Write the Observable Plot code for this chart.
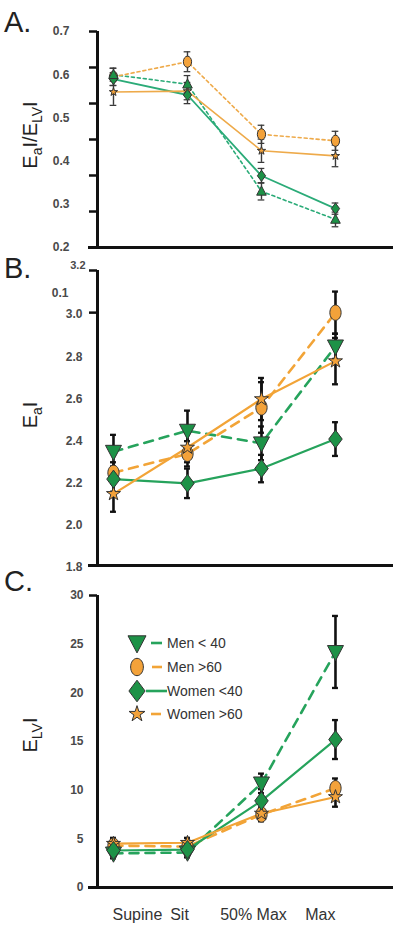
<!DOCTYPE html>
<html><head><meta charset="utf-8">
<script src="https://cdn.jsdelivr.net/npm/d3@7"></script>
<script src="https://cdn.jsdelivr.net/npm/@observablehq/plot@0.6"></script>
<style>
body{margin:0;background:#fff;}
#fig{position:relative;width:400px;height:931px;overflow:hidden;font-family:"Liberation Sans",Arial,sans-serif;background:#fff;}
#fig svg{position:absolute;left:0;}
</style>
</head><body><div id="fig"></div>
<script>
// ---------- data ----------
const stages = ["Supine", "Sit", "50% Max", "Max"];
const groups = ["Men < 40", "Men >60", "Women <40", "Women >60"];

// Panel A: EaI/ELVI
const aMen40 = [0.600, 0.578, 0.330, 0.265];
const aMen40Err = [0.015, 0.020, 0.020, 0.017];
const aMen60 = [0.595, 0.630, 0.462, 0.447];
const aMen60Err = [0.020, 0.023, 0.021, 0.022];
const aWomen40 = [0.590, 0.553, 0.366, 0.290];
const aWomen40Err = [0.015, 0.020, 0.017, 0.013];
const aWomen60 = [0.560, 0.562, 0.424, 0.412];
const aWomen60Err = [0.031, 0.020, 0.027, 0.025];

// Panel B: EaI
const bMen40 = [2.34, 2.44, 2.38, 2.84];
const bMen40Err = [0.08, 0.095, 0.08, 0.06];
const bMen60 = [2.24, 2.33, 2.55, 3.00];
const bMen60Err = [0.05, 0.06, 0.12, 0.10];
const bWomen40 = [2.21, 2.19, 2.26, 2.40];
const bWomen40Err = [0.06, 0.07, 0.065, 0.08];
const bWomen60 = [2.14, 2.36, 2.59, 2.77];
const bWomen60Err = [0.085, 0.07, 0.10, 0.11];

// Panel C: ELVI
const cMen40 = [3.5, 3.6, 10.7, 24.2];
const cMen40Err = [0.5, 0.5, 1.0, 3.7];
const cMen60 = [4.3, 4.2, 7.5, 10.2];
const cMen60Err = [0.5, 0.5, 0.7, 1.0];
const cWomen40 = [3.8, 3.9, 8.9, 15.2];
const cWomen40Err = [0.5, 0.5, 1.2, 2.0];
const cWomen60 = [4.5, 4.6, 7.6, 9.3];
const cWomen60Err = [0.6, 0.5, 0.6, 1.0];

// tick labels
const aTickLabels = [0.7, 0.6, 0.5, 0.4, 0.3, 0.2];
const aTickMarks = [0.7, 0.6167, 0.5333, 0.45, 0.3667, 0.2833, 0.2];
const bTickLabels = [3.0, 2.8, 2.6, 2.4, 2.2, 2.0, 1.8];
const bTopLabelValues = [3.2, 3.1];
const bTopLabelTexts = ["3.2", "0.1"];
const bTickMarks = [3.2, 3.0];
const cTickLabels = [30, 25, 20, 15, 10, 5, 0];
const cTickMarks = [30];

// ---------- styles ----------
const GREEN_FILL = "#1d9247", ORANGE_FILL = "#f3a23a";
const GREEN_LINE = "#26a35c", ORANGE_LINE = "#f2a437";
const GREEN_LINE_A = "#2bab78", ORANGE_LINE_A = "#eeaa4a";
const K = 0.5523;
const rad = s => Math.sqrt(s / Math.PI);
const symEllipse = {draw(c, s){const r = rad(s), rx = 0.75*r, ry = 1.02*r;
  c.moveTo(rx,0); c.bezierCurveTo(rx,K*ry,K*rx,ry,0,ry); c.bezierCurveTo(-K*rx,ry,-rx,K*ry,-rx,0);
  c.bezierCurveTo(-rx,-K*ry,-K*rx,-ry,0,-ry); c.bezierCurveTo(K*rx,-ry,rx,-K*ry,rx,0); c.closePath();}};
const symTriDown = {draw(c, s){const r = rad(s); c.moveTo(-r,-0.8*r); c.lineTo(r,-0.8*r); c.lineTo(0,1.1*r); c.closePath();}};
const symTriUp = {draw(c, s){const r = rad(s); c.moveTo(-r,0.8*r); c.lineTo(r,0.8*r); c.lineTo(0,-1.1*r); c.closePath();}};
const symDiamond = {draw(c, s){const r = rad(s); c.moveTo(0,-1.2*r); c.lineTo(0.9*r,0); c.lineTo(0,1.2*r); c.lineTo(-0.9*r,0); c.closePath();}};
const symStar = d3.symbolStar;

const xDomain = [-0.216, 3.784];
const fig = document.getElementById("fig");

function rows(vals, errs){ return stages.map((s, i) => ({i, s, v: vals[i], e: errs[i]})); }

function panel(cfg){
  const marks = [];
  for (const g of cfg.series) marks.push(Plot.line(rows(g.vals, g.errs), {x: "i", y: "v", stroke: g.line, strokeWidth: g.lw, strokeDasharray: g.dash || null}));
  for (const g of cfg.series){
    const R = rows(g.vals, g.errs);
    marks.push(Plot.ruleX(R, {x: "i", y1: d => d.v - d.e, y2: d => d.v + d.e, stroke: cfg.errColor, strokeWidth: cfg.errWidth}));
    marks.push(Plot.ruleY(R, {x1: d => d.i - cfg.cap, x2: d => d.i + cfg.cap, y: d => d.v + d.e, stroke: cfg.errColor, strokeWidth: cfg.errWidth * 0.9}));
    marks.push(Plot.ruleY(R, {x1: d => d.i - cfg.cap, x2: d => d.i + cfg.cap, y: d => d.v - d.e, stroke: cfg.errColor, strokeWidth: cfg.errWidth * 0.9}));
  }
  for (const g of cfg.drawOrder.map(k => cfg.series[k])) marks.push(Plot.dot(rows(g.vals, g.errs), {x: "i", y: "v", symbol: g.symbol, r: g.r, fill: g.fill, stroke: "#333", strokeWidth: 1}));
  marks.push(Plot.ruleX([xDomain[0]], {y1: cfg.yDomain[0], y2: cfg.yDomain[1], stroke: "#111", strokeWidth: 3}));
  marks.push(Plot.ruleY([cfg.yDomain[0]], {insetLeft: -9, stroke: "#111", strokeWidth: 3}));
  marks.push(Plot.axisY({ticks: cfg.tickMarks, tickSize: 8, tickFormat: () => "", strokeWidth: 2.5, stroke: "#111", label: null}));
  marks.push(Plot.axisY({ticks: cfg.tickLabels, tickSize: 0, tickPadding: cfg.pad, tickFormat: cfg.fmt, fontSize: 12, fontWeight: "bold", fill: "#4a4a4a", dy: cfg.labelDy || 0, label: null}));
  if (cfg.extra) marks.push(...cfg.extra);
  const p = Plot.plot({
    width: 400, height: cfg.height,
    marginLeft: 97, marginRight: 7, marginTop: cfg.mt, marginBottom: cfg.mb,
    x: {type: "linear", domain: xDomain, axis: null},
    y: {domain: cfg.yDomain, axis: null},
    style: {background: "transparent", overflow: "visible", fontFamily: "'Liberation Sans', Arial, sans-serif"},
    marks
  });
  p.style.top = cfg.top + "px";
  fig.appendChild(p);
}

// Panel A
panel({
  top: 0, height: 255, mt: 31, mb: 8, yDomain: [0.2, 0.7],
  tickMarks: aTickMarks, tickLabels: aTickLabels, pad: 28, fmt: d3.format(".1f"),
  errColor: "#3a3a3a", errWidth: 1.4, cap: 0.045,
  series: [
    {vals: aMen40, errs: aMen40Err, line: GREEN_LINE_A, lw: 1.6, dash: "3,3", symbol: symTriUp, r: 4.8, fill: GREEN_FILL},
    {vals: aMen60, errs: aMen60Err, line: ORANGE_LINE_A, lw: 1.6, dash: "3,3", symbol: symEllipse, r: 5.5, fill: ORANGE_FILL},
    {vals: aWomen40, errs: aWomen40Err, line: GREEN_LINE_A, lw: 1.8, symbol: symDiamond, r: 4.6, fill: GREEN_FILL},
    {vals: aWomen60, errs: aWomen60Err, line: ORANGE_LINE_A, lw: 1.6, symbol: symStar, r: 2.6, fill: ORANGE_FILL}
  ],
  drawOrder: [1, 3, 2, 0]
});

// Panel B
const bTop = bTopLabelValues.map((v, i) => ({v, t: bTopLabelTexts[i]}));
panel({
  top: 255, height: 320, mt: 15, mb: 10, yDomain: [1.8, 3.2],
  tickMarks: bTickMarks, tickLabels: bTickLabels, pad: 15, fmt: d3.format(".1f"), labelDy: 2,
  errColor: "#111", errWidth: 2.6, cap: 0.04,
  series: [
    {vals: bMen40, errs: bMen40Err, line: GREEN_LINE, lw: 2.6, dash: "9,7", symbol: symTriDown, r: 8, fill: GREEN_FILL},
    {vals: bMen60, errs: bMen60Err, line: ORANGE_LINE, lw: 2.6, dash: "9,7", symbol: symEllipse, r: 7.5, fill: ORANGE_FILL},
    {vals: bWomen40, errs: bWomen40Err, line: GREEN_LINE, lw: 2.2, symbol: symDiamond, r: 7.5, fill: GREEN_FILL},
    {vals: bWomen60, errs: bWomen60Err, line: ORANGE_LINE, lw: 2.2, symbol: symStar, r: 4.4, fill: ORANGE_FILL}
  ],
  drawOrder: [1, 3, 0, 2],
  extra: [
    Plot.text(bTop, {x: xDomain[0], y: "v", text: "t", textAnchor: "end", fontSize: 11, fontWeight: "bold", fill: "#4a4a4a", filter: d => d.t === "3.2", dx: -12, dy: -5}),
    Plot.text(bTop, {x: xDomain[0], y: "v", text: "t", textAnchor: "end", fontSize: 12, fontWeight: "bold", fill: "#4a4a4a", filter: d => d.t === "0.1", dx: -29, dy: 2})
  ]
});

// Panel C
const stageRows = stages.map((s, i) => ({s, i}));
panel({
  top: 575, height: 356, mt: 20, mb: 44, yDomain: [0, 30],
  tickMarks: cTickMarks, tickLabels: cTickLabels, pad: 14, fmt: d3.format("d"),
  errColor: "#111", errWidth: 2.6, cap: 0.04,
  series: [
    {vals: cMen40, errs: cMen40Err, line: GREEN_LINE, lw: 2.6, dash: "9,7", symbol: symTriDown, r: 8, fill: GREEN_FILL},
    {vals: cMen60, errs: cMen60Err, line: ORANGE_LINE, lw: 2.6, dash: "9,7", symbol: symEllipse, r: 7.5, fill: ORANGE_FILL},
    {vals: cWomen40, errs: cWomen40Err, line: GREEN_LINE, lw: 2.2, symbol: symDiamond, r: 7.5, fill: GREEN_FILL},
    {vals: cWomen60, errs: cWomen60Err, line: ORANGE_LINE, lw: 2.2, symbol: symStar, r: 4.4, fill: ORANGE_FILL}
  ],
  drawOrder: [1, 3, 0, 2],
  extra: [
    Plot.text(stageRows, {filter: d => d.i === 0, x: "i", y: 0, text: "s", textAnchor: "start", dx: -1, dy: 27, fontSize: 16, fill: "#333"}),
    Plot.text(stageRows, {filter: d => d.i === 1 || d.i === 2, x: "i", y: 0, text: "s", textAnchor: "middle", dx: -8, dy: 27, fontSize: 16, fill: "#333"}),
    Plot.text(stageRows, {filter: d => d.i === 3, x: "i", y: 0, text: "s", textAnchor: "end", dx: 0, dy: 27, fontSize: 16, fill: "#333"})
  ]
});

// ---------- overlay: panel letters, axis titles, legend ----------
const ov = d3.select(fig).append("svg").attr("width", 400).attr("height", 931)
  .style("top", "0px").style("font-family", "'Liberation Sans', Arial, sans-serif");

[["A.", 32], ["B.", 278], ["C.", 591]].forEach(([t, y]) =>
  ov.append("text").attr("x", 4).attr("y", y).attr("font-size", 29).attr("fill", "#222").text(t));

function yTitle(cx, cy, parts){
  const t = ov.append("text").attr("transform", `translate(${cx},${cy}) rotate(-90)`)
    .attr("text-anchor", "middle").attr("font-size", 20).attr("fill", "#222");
  let sub = false;
  parts.forEach(([s, isSub]) => {
    const ts = t.append("tspan").text(s);
    if (isSub && !sub) ts.attr("dy", 5).attr("font-size", 14);
    else if (isSub) ts.attr("font-size", 14);
    else if (!isSub && sub) ts.attr("dy", -5);
    sub = isSub;
  });
}
yTitle(37, 135, [["E",0],["a",1],["I",0],["/",0],["E",0],["LV",1],["I",0]]);
yTitle(37, 415, [["E",0],["a",1],["I",0]]);
yTitle(37, 735, [["E",0],["LV",1],["I",0]]);

const legendItems = [
  {sym: symTriDown, r: 9, fill: GREEN_FILL, line: GREEN_LINE, x1: 151, x2: 162},
  {sym: symEllipse, r: 8.5, fill: ORANGE_FILL, line: ORANGE_LINE, x1: 152, x2: 162},
  {sym: symDiamond, r: 9, fill: GREEN_FILL, line: GREEN_LINE, x1: 146, x2: 167},
  {sym: symStar, r: 5, fill: ORANGE_FILL, line: ORANGE_LINE, x1: 151, x2: 161}
];
const legendY = [643, 667, 691, 714];
groups.forEach((name, k) => {
  const it = legendItems[k], y = legendY[k];
  ov.append("line").attr("x1", it.x1).attr("x2", it.x2).attr("y1", y).attr("y2", y)
    .attr("stroke", it.line).attr("stroke-width", 2.6);
  ov.append("path").attr("transform", `translate(137,${y})`)
    .attr("d", d3.symbol().type(it.sym).size(Math.PI * it.r * it.r)())
    .attr("fill", it.fill).attr("stroke", "#333").attr("stroke-width", 1);
  ov.append("text").attr("x", 167).attr("y", y).attr("dy", "0.35em")
    .attr("font-size", 14).attr("fill", "#333").text(name);
});
</script></body></html>
